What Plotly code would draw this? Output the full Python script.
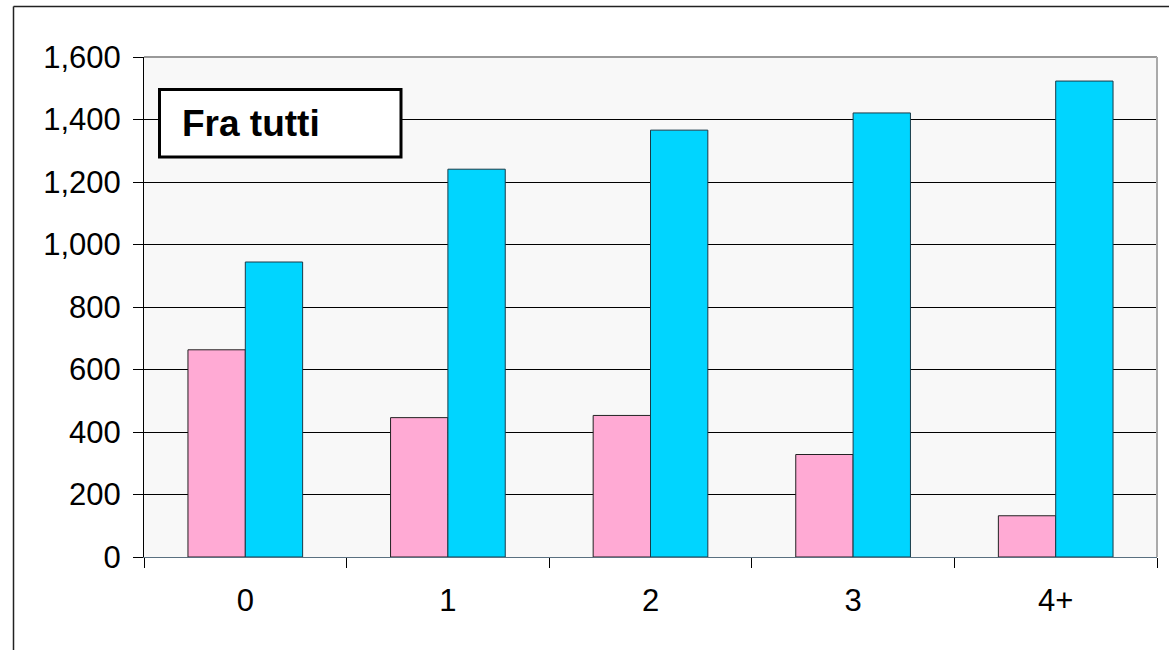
import plotly.graph_objects as go

categories = ["0", "1", "2", "3", "4+"]
pink_values = [663, 446, 453, 328, 132]
cyan_values = [944, 1241, 1366, 1421, 1523]
y_ticks = [0, 200, 400, 600, 800, 1000, 1200, 1400, 1600]
title_text = "Fra tutti"

W, H = 1169, 650
L, R, T, B = 144, 12, 57, 93
pw = W - L - R
ph = H - T - B

def px_x(p):
    return (p - L) / pw

def px_y(p):
    return (H - B - p) / ph

fig = go.Figure()
fig.add_trace(go.Bar(x=categories, y=pink_values, marker=dict(color="#FFAAD4", line=dict(color="#222222", width=1)), showlegend=False))
fig.add_trace(go.Bar(x=categories, y=cyan_values, marker=dict(color="#00D5FF", line=dict(color="#1a3a48", width=1)), showlegend=False))

font = "Liberation Sans, Arial, sans-serif"
fig.update_layout(
    width=W, height=H,
    margin=dict(l=L, r=R, t=T, b=B),
    paper_bgcolor="white",
    plot_bgcolor="#F8F8F8",
    barmode="group",
    bargap=0.434,
    bargroupgap=0,
    font=dict(family=font, size=31, color="black"),
    xaxis=dict(
        type="category",
        showline=True, linecolor="#5a7080", linewidth=1,
        ticks="outside", tickson="boundaries", ticklen=10, tickcolor="black",
        showgrid=False,
        tickfont=dict(size=31, family=font, color="black"),
        ticklabelstandoff=16,
    ),
    yaxis=dict(
        range=[0, 1600], tickvals=y_ticks, tickformat=",d",
        showline=True, linecolor="black", linewidth=1,
        ticks="outside", ticklen=10, tickcolor="black",
        showgrid=True, gridcolor="black", gridwidth=1,
        zeroline=False,
        tickfont=dict(size=31, family=font, color="black"),
        ticklabelstandoff=6,
    ),
    shapes=[
        dict(type="line", xref="paper", yref="paper", x0=px_x(13.5), x1=px_x(1200), y0=px_y(6.5), y1=px_y(6.5), line=dict(color="#222222", width=1.5)),
        dict(type="line", xref="paper", yref="paper", x0=px_x(13.5), x1=px_x(13.5), y0=px_y(6.5), y1=px_y(700), line=dict(color="#222222", width=1.5)),
        dict(type="line", xref="paper", yref="paper", x0=0, x1=1, y0=1, y1=1, line=dict(color="#999999", width=2)),
        dict(type="line", xref="paper", yref="paper", x0=1, x1=1, y0=0, y1=1, line=dict(color="#aaaaaa", width=2)),
        dict(type="rect", xref="paper", yref="paper", x0=px_x(159.5), x1=px_x(401), y0=px_y(157), y1=px_y(89.5), line=dict(color="black", width=3), fillcolor="white"),
    ],
    annotations=[
        dict(text="<b>" + title_text + "</b>", xref="paper", yref="paper", x=px_x(180), y=px_y(123), xanchor="left", yanchor="middle", showarrow=False, font=dict(size=37, family=font, color="black")),
    ],
)

fig.write_html(
    "out.html",
    config={"displayModeBar": False},
    post_script="document.body.style.margin='0';document.body.style.overflow='hidden';",
)
